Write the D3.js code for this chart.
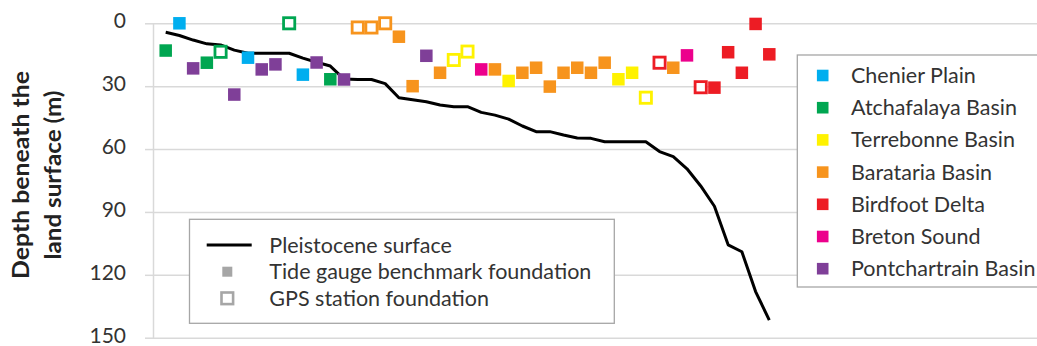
<!DOCTYPE html>
<html>
<head>
<meta charset="utf-8">
<script src="https://cdn.jsdelivr.net/npm/d3@7/dist/d3.min.js"></script>
<style>
  html, body { margin: 0; padding: 0; background: #fff; }
  svg { display: block; font-family: Lato, "Open Sans", sans-serif; }
</style>
</head>
<body>
<svg id="chart" width="1037" height="346"></svg>
<script>
// Regions (legend order)
const regions = [
  "Chenier Plain", "Atchafalaya Basin", "Terrebonne Basin", "Barataria Basin",
  "Birdfoot Delta", "Breton Sound", "Pontchartrain Basin"
];
const regionColors = ["#00aeef", "#00a651", "#fff200", "#f7941d", "#ed1c24", "#ec008c", "#7f3f98"];

// One entry per site, west to east
// region index into `regions`
const siteRegion = [
  1, 0, 6, 1, 1, 6, 0, 6, 6, 1, 0, 6, 1, 6,
  3, 3, 3, 3, 3, 6, 3, 2, 2, 5, 3, 2, 3, 3, 3, 3, 3, 3, 3,
  2, 2, 2, 4, 3, 5, 4, 4, 4, 4, 4, 4
];
// foundation type: "T" = tide gauge benchmark, "G" = GPS station
const siteFoundation = [
  "T", "T", "T", "T", "G", "T", "T", "T", "T", "G", "T", "T", "T", "T",
  "G", "G", "G", "T", "T", "T", "T", "G", "G", "T", "T", "T", "T", "T", "T", "T", "T", "T", "T",
  "T", "T", "G", "G", "T", "T", "G", "T", "T", "T", "T", "T"
];
// foundation depth beneath the land surface (m)
const siteDepth = [
  13, 0, 21.5, 18.8, 13.6, 34, 16.4, 22, 19.6, 0, 24.5, 18.7, 26.7, 26.8,
  2, 2, 0, 6.4, 30, 15.5, 23.6, 17.5, 13.5, 22, 22, 27.5, 23.6, 21.2, 30.2, 23.6, 21.2, 23.6, 18.8,
  26.7, 23.6, 35.5, 18.8, 21.2, 15.3, 30.5, 30.7, 13.8, 23.6, 0.3, 14.8
];
// depth of the Pleistocene surface at each site (m)
const pleistoceneDepth = [
  4.3, 5.8, 8, 9.8, 10.3, 12.8, 14.3, 14.3, 14.3, 14.3, 16.6, 18.6, 20.4, 26.6,
  26.8, 26.8, 28.8, 35.5, 36.5, 37.4, 39, 39.8, 39.8, 42.5, 43.8, 45.7, 49, 51.7, 51.7, 53.3,
  54.7, 54.9, 56.5, 56.5, 56.5, 56.5, 61.2, 63.6, 69.4, 77.6, 87.3, 105.7, 109, 128, 141.6
];
const yTicks = [0, 30, 60, 90, 120, 150];

const svg = d3.select("#chart");
const W = 1037;

const x = d3.scalePoint().domain(d3.range(siteDepth.length)).range([165.7, 769.3]);
const y = d3.scaleLinear().domain([0, 150]).range([23.3, 337.7]);

// Gridlines and y axis
const yAxis = d3.axisLeft(y).tickValues(yTicks).tickSize(8).tickPadding(19).tickSizeOuter(0);
const ax = svg.append("g").attr("transform", "translate(153,0)").call(yAxis);
ax.select(".domain").attr("stroke", "#d9d9d9").attr("stroke-width", 1.5);
ax.selectAll(".tick line").attr("stroke", "#d9d9d9").attr("stroke-width", 1.5);
ax.selectAll(".tick text").attr("font-family", "Lato, sans-serif").attr("font-size", 21)
  .attr("fill", "#333").attr("dy", "0.22em");
ax.selectAll(".tick").append("line")
  .attr("x1", 0).attr("x2", W - 153)
  .attr("stroke", "#d9d9d9").attr("stroke-width", 1.5);

// Axis title
const title = svg.append("text")
  .attr("transform", "translate(0,175) rotate(-90)")
  .attr("text-anchor", "middle")
  .attr("font-size", 23.5).attr("font-weight", "bold").attr("fill", "#222");
title.append("tspan").attr("x", 0).attr("y", 29)
  .attr("textLength", 208).attr("lengthAdjust", "spacingAndGlyphs").text("Depth beneath the");
title.append("tspan").attr("x", 0).attr("y", 61)
  .attr("textLength", 169).attr("lengthAdjust", "spacingAndGlyphs").text("land surface (m)");

// Pleistocene surface
svg.append("path")
  .datum(pleistoceneDepth)
  .attr("fill", "none").attr("stroke", "#000").attr("stroke-width", 3)
  .attr("stroke-linejoin", "round")
  .attr("d", d3.line().x((d, i) => x(i)).y(d => y(d)));

// Foundation points
const filledSize = 12.5, openSize = 11.2, openStroke = 2.8;
const pts = siteDepth.map((d, i) => ({ i, d, r: siteRegion[i], f: siteFoundation[i] }));
svg.append("g").selectAll("rect").data(pts).join("rect")
  .attr("x", p => x(p.i) - (p.f === "T" ? filledSize : openSize) / 2)
  .attr("y", p => y(p.d) - (p.f === "T" ? filledSize : openSize) / 2)
  .attr("width", p => p.f === "T" ? filledSize : openSize)
  .attr("height", p => p.f === "T" ? filledSize : openSize)
  .attr("fill", p => p.f === "T" ? regionColors[p.r] : "#fff")
  .attr("stroke", p => p.f === "T" ? "none" : regionColors[p.r])
  .attr("stroke-width", openStroke);

// Region legend
const lg = svg.append("g");
lg.append("rect").attr("x", 797.3).attr("y", 55).attr("width", 260).attr("height", 232)
  .attr("fill", "#fff").attr("stroke", "#a6a6a6").attr("stroke-width", 1.3);
regions.forEach((name, k) => {
  const cy = 75.5 + k * 32.2;
  lg.append("rect").attr("x", 822.7 - 5.8).attr("y", cy - 5.8).attr("width", 11.6).attr("height", 11.6)
    .attr("fill", regionColors[k]);
  lg.append("text").attr("x", 851).attr("y", cy).attr("dy", "0.35em")
    .attr("font-size", 21.5).attr("fill", "#333").text(name);
});

// Symbol legend
const sg = svg.append("g");
sg.append("rect").attr("x", 189.5).attr("y", 219.3).attr("width", 424.8).attr("height", 104)
  .attr("fill", "#fff").attr("stroke", "#a6a6a6").attr("stroke-width", 1.3);
sg.append("line").attr("x1", 206.7).attr("x2", 251.7).attr("y1", 245).attr("y2", 245)
  .attr("stroke", "#000").attr("stroke-width", 3);
sg.append("rect").attr("x", 227.3 - 5).attr("y", 271.7 - 5).attr("width", 10).attr("height", 10)
  .attr("fill", "#a6a6a6");
sg.append("rect").attr("x", 227.3 - 5.8).attr("y", 298.3 - 5.8).attr("width", 11.6).attr("height", 11.6)
  .attr("fill", "#fff").attr("stroke", "#a6a6a6").attr("stroke-width", 2.6);
[["Pleistocene surface", 245], ["Tide gauge benchmark foundation", 271.7], ["GPS station foundation", 298.3]]
  .forEach(([t, cy]) => {
    sg.append("text").attr("x", 269.3).attr("y", cy).attr("dy", "0.35em")
      .attr("font-size", 21.5).attr("fill", "#333").text(t);
  });
</script>
</body>
</html>
